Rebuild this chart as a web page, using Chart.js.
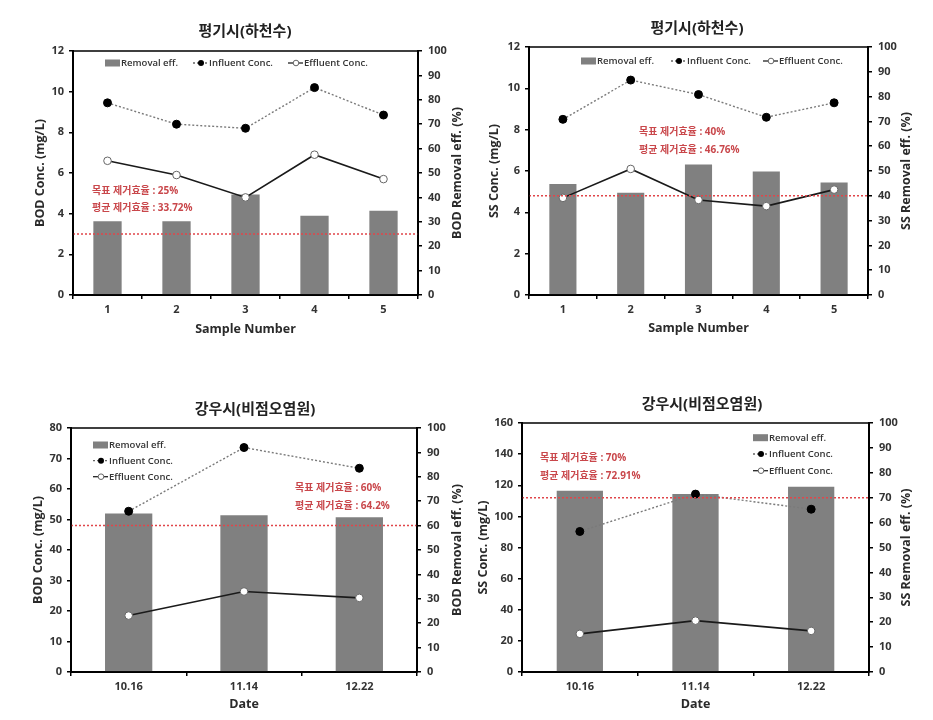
<!DOCTYPE html>
<html><head><meta charset="utf-8">
<script src="https://cdn.jsdelivr.net/npm/chart.js@4.4.1/dist/chart.umd.min.js"></script>
<style>
html,body{margin:0;padding:0;background:#fff;width:933px;height:720px;overflow:hidden}
canvas{position:absolute}
</style></head><body>
<canvas id="c1" width="466" height="345" style="left:0px;top:0px"></canvas>
<canvas id="c2" width="467" height="345" style="left:466px;top:0px"></canvas>
<canvas id="c3" width="466" height="375" style="left:0px;top:345px"></canvas>
<canvas id="c4" width="467" height="375" style="left:466px;top:345px"></canvas>
<script>
// ---- data ----
const sampleLabels = ['1', '2', '3', '4', '5'];
const dateLabels = ['10.16', '11.14', '12.22'];

const bodRiverInfluent = [9.45, 8.4, 8.2, 10.2, 8.85];
const bodRiverEffluent = [6.6, 5.9, 4.8, 6.9, 5.7];
const bodRiverRemoval  = [30.2, 30.2, 41.2, 32.5, 34.5];

const ssRiverInfluent = [8.5, 10.4, 9.7, 8.6, 9.3];
const ssRiverEffluent = [4.7, 6.1, 4.6, 4.3, 5.1];
const ssRiverRemoval  = [44.8, 41.2, 52.6, 49.8, 45.4];

const bodRainInfluent = [52.7, 73.6, 66.8];
const bodRainEffluent = [18.5, 26.4, 24.3];
const bodRainRemoval  = [65.0, 64.2, 63.4];

const ssRainInfluent = [90.3, 114.3, 104.6];
const ssRainEffluent = [24.5, 33.0, 26.4];
const ssRainRemoval  = [72.8, 71.5, 74.4];

const targetEff = [25, 40, 60, 70];
const avgEffText = ['33.72%', '46.76%', '64.2%', '72.91%'];
const leftAxisMax = [12, 12, 80, 160];
const leftAxisStep = [2, 2, 10, 20];
const panelTitles = ['평기시(하천수)', '평기시(하천수)', '강우시(비점오염원)', '강우시(비점오염원)'];
const leftTitles = ['BOD Conc. (mg/L)', 'SS Conc. (mg/L)', 'BOD Conc. (mg/L)', 'SS Conc. (mg/L)'];
const rightTitles = ['BOD Removal eff. (%)', 'SS Removal eff. (%)', 'BOD Removal eff. (%)', 'SS Removal eff. (%)'];
const xTitles = ['Sample Number', 'Sample Number', 'Date', 'Date'];
const seriesNames = ['Removal eff.', 'Influent Conc.', 'Effluent Conc.'];

// ---- layout (positions only) ----
const FONT = "'Open Sans','Noto Sans CJK KR',sans-serif";
const layouts = {
  c1: {top:51, lw:73, rw:48, xh:50, lPad:32.5, rX:457, xPad:8.5, title:[245,32],
       ann:[[92,191],[92,208]], legend:[[105,63],[193,63],[288,63]], bar:0.41},
  c2: {top:47, lw:63, rw:65, xh:50, lPad:20.5, rX:440, xPad:9.5, title:[231,29],
       ann:[[173,132],[173,150]], legend:[[115,61],[205,61],[297,61]], bar:0.40},
  c3: {top:83, lw:71, rw:49, xh:48, lPad:30.5, rX:457, xPad:8.5, title:[255,65],
       ann:[[295,143],[295,161]], legend:[[93,100],[93,115.7],[93,131.7]], bar:0.41},
  c4: {top:78, lw:56, rw:64, xh:48, lPad:9.5, rX:440, xPad:8.5, title:[236,60],
       ann:[[74,112.7],[74,131]], legend:[[287,92.7],[287,109],[287,125.7]], bar:0.40}
};

const decor = {
  id: 'decor',
  afterDatasetsDraw(chart) {
    const P = chart.$panel;
    const {ctx, chartArea: a, scales} = chart;
    const y = scales.y1.getPixelForValue(targetEff[P.i]);
    ctx.save();
    ctx.strokeStyle = '#e0464a'; ctx.lineWidth = 1.5; ctx.setLineDash([2, 2]);
    ctx.beginPath(); ctx.moveTo(a.left, y); ctx.lineTo(a.right, y); ctx.stroke();
    ctx.restore();
  },
  afterDraw(chart) {
    const P = chart.$panel; const L = P.L;
    const {ctx, chartArea: a} = chart;
    ctx.save();
    // frame
    ctx.strokeStyle = '#000'; ctx.lineWidth = 1.5;
    ctx.strokeRect(a.left, a.top, a.right - a.left, a.bottom - a.top);
    // title
    ctx.fillStyle = '#222'; ctx.font = 'bold 15px ' + FONT;
    ctx.textAlign = 'center'; ctx.textBaseline = 'middle';
    ctx.fillText(panelTitles[P.i], L.title[0], L.title[1]);
    // right axis title (reads bottom to top)
    ctx.save();
    ctx.translate(L.rX, (a.top + a.bottom) / 2);
    ctx.rotate(-Math.PI / 2);
    ctx.fillStyle = '#2a2a2a'; ctx.font = 'bold 12.5px ' + FONT;
    ctx.fillText(rightTitles[P.i], 0, 0);
    ctx.restore();
    // annotations
    ctx.fillStyle = '#c9474b'; ctx.font = 'bold 10px ' + FONT; ctx.textAlign = 'left';
    ctx.fillText('목표 제거효율 : ' + targetEff[P.i] + '%', L.ann[0][0], L.ann[0][1]);
    ctx.fillText('평균 제거효율 : ' + avgEffText[P.i], L.ann[1][0], L.ann[1][1]);
    // legend
    ctx.font = '600 9.5px ' + FONT; ctx.fillStyle = '#333';
    L.legend.forEach((p, k) => {
      const [x0, y0] = p;
      if (k === 0) {
        ctx.fillStyle = '#808080'; ctx.fillRect(x0, y0 - 3.5, 15, 7);
      } else if (k === 1) {
        ctx.strokeStyle = '#666'; ctx.lineWidth = 1.3; ctx.setLineDash([2, 2]);
        ctx.beginPath(); ctx.moveTo(x0, y0); ctx.lineTo(x0 + 15, y0); ctx.stroke(); ctx.setLineDash([]);
        ctx.fillStyle = '#000'; ctx.beginPath(); ctx.arc(x0 + 8, y0, 3, 0, Math.PI * 2); ctx.fill();
      } else {
        ctx.strokeStyle = '#222'; ctx.lineWidth = 1.3;
        ctx.beginPath(); ctx.moveTo(x0, y0); ctx.lineTo(x0 + 15, y0); ctx.stroke();
        ctx.fillStyle = '#fff'; ctx.strokeStyle = '#666'; ctx.lineWidth = 1;
        ctx.beginPath(); ctx.arc(x0 + 8, y0, 2.8, 0, Math.PI * 2); ctx.fill(); ctx.stroke();
      }
      ctx.fillStyle = '#333';
      ctx.fillText(seriesNames[k], x0 + 16, y0 + 0.5);
    });
    ctx.restore();
  }
};

function makeChart(id, i, labels, inf, eff, rem) {
  const L = layouts[id];
  const tickFont = {family: FONT, size: 11, weight: 'bold'};
  const titleFont = {family: FONT, size: 12.5, weight: 'bold'};
  return new Chart(document.getElementById(id), {
    type: 'bar',
    data: {
      labels: labels,
      datasets: [
        {type: 'line', label: seriesNames[2], data: eff, yAxisID: 'y', order: 1,
         borderColor: '#1a1a1a', borderWidth: 1.6, tension: 0,
         pointRadius: 3.8, pointBackgroundColor: '#fff', pointBorderColor: '#666', pointBorderWidth: 1},
        {type: 'line', label: seriesNames[1], data: inf, yAxisID: 'y', order: 2,
         borderColor: '#7a7a7a', borderWidth: 1.4, borderDash: [2, 2], tension: 0,
         pointRadius: 4, pointBackgroundColor: '#000', pointBorderColor: '#000', pointBorderWidth: 1},
        {type: 'bar', label: seriesNames[0], data: rem, yAxisID: 'y1', order: 3,
         backgroundColor: '#808080', barPercentage: L.bar, categoryPercentage: 1}
      ]
    },
    options: {
      responsive: false, animation: false, events: [],
      layout: {padding: {top: L.top, left: 0, right: 0, bottom: 0}},
      plugins: {legend: {display: false}, tooltip: {enabled: false}, title: {display: false}},
      scales: {
        x: {
          type: 'category', offset: true,
          grid: {display: true, drawOnChartArea: false, offset: true, color: '#000', tickLength: 4, lineWidth: 1.5},
          border: {color: '#000', width: 2},
          ticks: {color: '#333', font: tickFont, padding: 4},
          title: {display: true, text: xTitles[i], color: '#2a2a2a', font: titleFont, padding: {top: 0, bottom: L.xPad}},
          afterFit: s => { s.height = L.xh; }
        },
        y: {
          position: 'left', min: 0, max: leftAxisMax[i],
          grid: {drawOnChartArea: false, color: '#000', tickLength: 4, lineWidth: 1.5},
          border: {color: '#000', width: 2},
          ticks: {stepSize: leftAxisStep[i], color: '#333', font: tickFont, padding: 5},
          title: {display: true, text: leftTitles[i], color: '#2a2a2a', font: titleFont, padding: {top: L.lPad, bottom: 0}},
          afterFit: s => { s.width = L.lw; }
        },
        y1: {
          position: 'right', min: 0, max: 100,
          grid: {drawOnChartArea: false, color: '#000', tickLength: 4, lineWidth: 1.5},
          border: {color: '#000', width: 2},
          ticks: {stepSize: 10, color: '#333', font: tickFont, padding: 6},
          title: {display: false},
          afterFit: s => { s.width = L.rw; }
        }
      }
    },
    plugins: [{id: 'panelInfo', beforeInit(c) { c.$panel = {i: i, L: L}; }}, decor]
  });
}

makeChart('c1', 0, sampleLabels, bodRiverInfluent, bodRiverEffluent, bodRiverRemoval);
makeChart('c2', 1, sampleLabels, ssRiverInfluent, ssRiverEffluent, ssRiverRemoval);
makeChart('c3', 2, dateLabels, bodRainInfluent, bodRainEffluent, bodRainRemoval);
makeChart('c4', 3, dateLabels, ssRainInfluent, ssRainEffluent, ssRainRemoval);
</script>
</body></html>
